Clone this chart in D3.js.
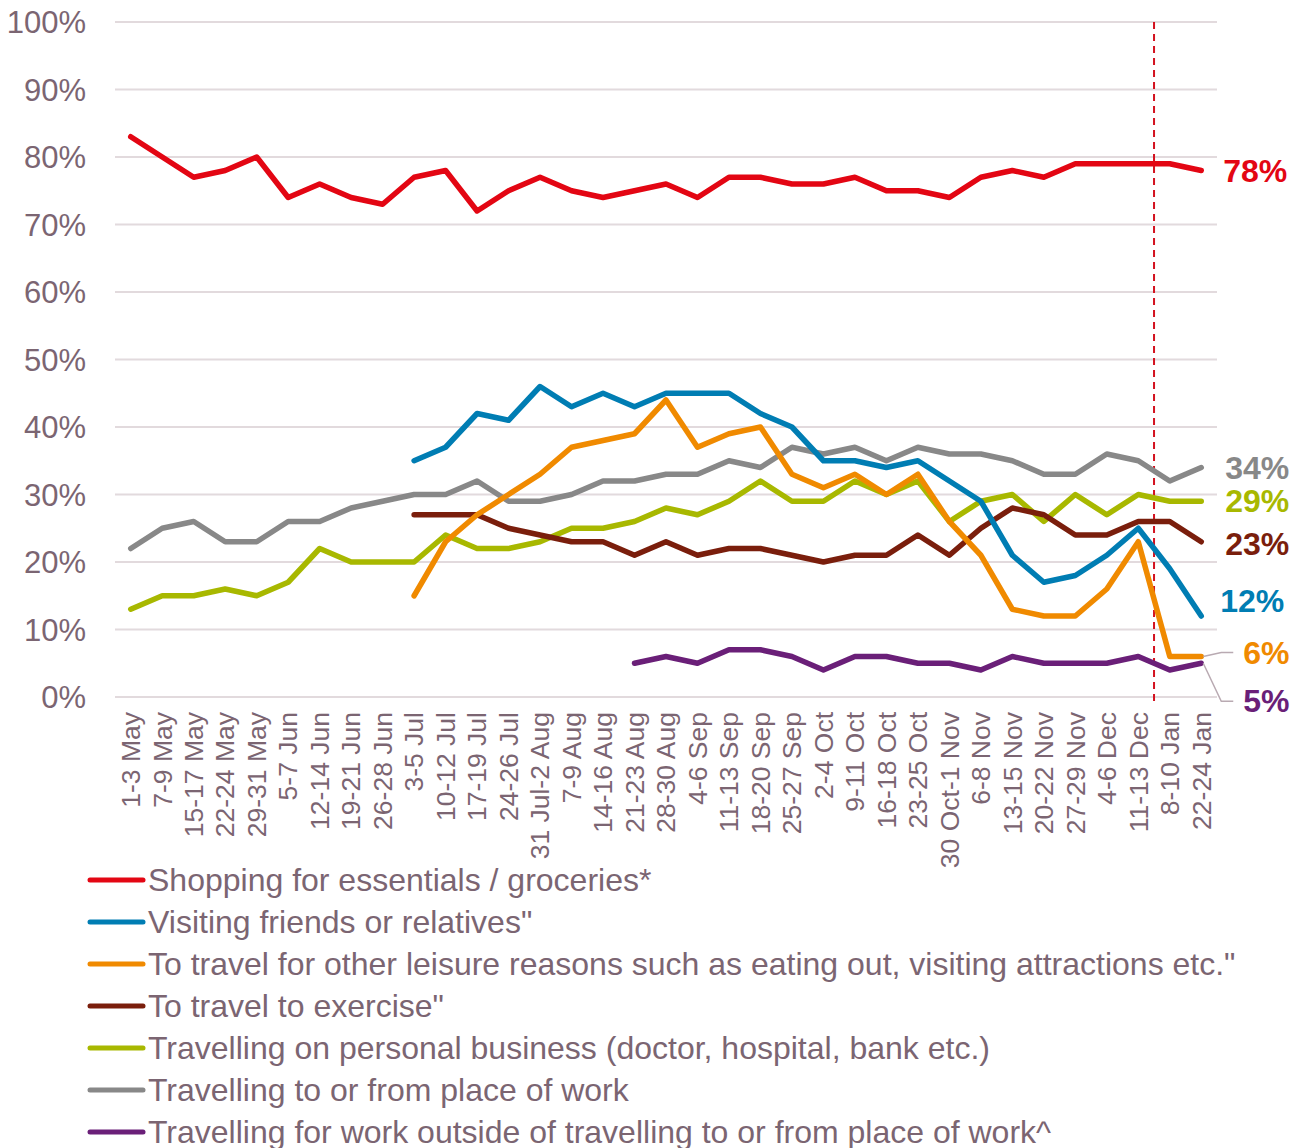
<!DOCTYPE html>
<html>
<head>
<meta charset="utf-8">
<script src="https://cdn.jsdelivr.net/npm/d3@7"></script>
<style>
  html, body { margin: 0; padding: 0; background: #fff; }
  svg { display: block; font-family: "Liberation Sans", Arial, sans-serif; }
</style>
</head>
<body>
<svg id="chart" width="1301" height="1148"></svg>
<script>
const categories = ["1-3 May","7-9 May","15-17 May","22-24 May","29-31 May","5-7 Jun","12-14 Jun","19-21 Jun","26-28 Jun","3-5 Jul","10-12 Jul","17-19 Jul","24-26 Jul","31 Jul-2 Aug","7-9 Aug","14-16 Aug","21-23 Aug","28-30 Aug","4-6 Sep","11-13 Sep","18-20 Sep","25-27 Sep","2-4 Oct","9-11 Oct","16-18 Oct","23-25 Oct","30 Oct-1 Nov","6-8 Nov","13-15 Nov","20-22 Nov","27-29 Nov","4-6 Dec","11-13 Dec","8-10 Jan","22-24 Jan"];

const shopping = [83,80,77,78,80,74,76,74,73,77,78,72,75,77,75,74,75,76,74,77,77,76,76,77,75,75,74,77,78,77,79,79,79,79,78];
const visiting = [null,null,null,null,null,null,null,null,null,35,37,42,41,46,43,45,43,45,45,45,42,40,35,35,34,35,32,29,21,17,18,21,25,19,12];
const leisure  = [null,null,null,null,null,null,null,null,null,15,23,27,30,33,37,38,39,44,37,39,40,33,31,33,30,33,26,21,13,12,12,16,23,6,6];
const exercise = [null,null,null,null,null,null,null,null,null,27,27,27,25,24,23,23,21,23,21,22,22,21,20,21,21,24,21,25,28,27,24,24,26,26,23];
const personal = [13,15,15,16,15,17,22,20,20,20,24,22,22,23,25,25,26,28,27,29,32,29,29,32,30,32,26,29,30,26,30,27,30,29,29];
const commute  = [22,25,26,23,23,26,26,28,29,30,30,32,29,29,30,32,32,33,33,35,34,37,36,37,35,37,36,36,35,33,33,36,35,32,34];
const workTrav = [null,null,null,null,null,null,null,null,null,null,null,null,null,null,null,null,5,6,5,7,7,6,4,6,6,5,5,4,6,5,5,5,6,4,5];

const seriesNames = ["Shopping for essentials / groceries*","Visiting friends or relatives\"","To travel for other leisure reasons such as eating out, visiting attractions etc.\"","To travel to exercise\"","Travelling on personal business (doctor, hospital, bank etc.)","Travelling to or from place of work","Travelling for work outside of travelling to or from place of work^"];
const seriesColors = ["#e30613","#007db3","#f08a00","#7a1e0c","#a8b800","#888888","#6a1f78"];
const seriesValues = [shopping, visiting, leisure, exercise, personal, commute, workTrav];
const yTicks = [0,10,20,30,40,50,60,70,80,90,100];
const markerAfter = "11-13 Dec";

(function () {
const svg = d3.select("#chart");
const pLeft = 115, pRight = 1217, pTop = 22, pBottom = 697;
const textColor = "#7b6572";

const x = d3.scaleBand().domain(categories).range([pLeft, pRight]).paddingInner(0).paddingOuter(0);
const xc = d => x(d) + x.bandwidth() / 2;
const y = d3.scaleLinear().domain([0, 100]).range([pBottom, pTop]);

// gridlines
svg.append("g").selectAll("line").data(yTicks).join("line")
  .attr("x1", pLeft).attr("x2", pRight)
  .attr("y1", d => y(d)).attr("y2", d => y(d))
  .attr("stroke", "#e2dadd").attr("stroke-width", 2);

// y axis labels
const yAxis = d3.axisLeft(y).tickValues(yTicks).tickFormat(d => d + "%").tickSize(0).tickPadding(0);
const gy = svg.append("g").attr("transform", "translate(86,0)").call(yAxis);
gy.select(".domain").remove();
gy.selectAll("text").attr("fill", textColor).style("font-size", "31px")
  .style("font-family", "'Liberation Sans', Arial, sans-serif").attr("dy", "0.35em");

// x axis labels
const xAxis = d3.axisBottom(x).tickSize(0).tickPadding(0);
const gx = svg.append("g").attr("transform", `translate(0,${pBottom})`).call(xAxis);
gx.select(".domain").remove();
gx.selectAll("text")
  .attr("fill", textColor).style("font-size", "26.5px")
  .style("font-family", "'Liberation Sans', Arial, sans-serif")
  .attr("text-anchor", "end")
  .attr("transform", "translate(0,15) rotate(-90)")
  .attr("x", 0).attr("y", 0).attr("dy", "0.35em");

// dashed marker line between 11-13 Dec and 8-10 Jan
const mIdx = categories.indexOf(markerAfter);
const mx = x(categories[mIdx + 1]);
svg.append("line")
  .attr("x1", mx).attr("x2", mx).attr("y1", pTop).attr("y2", pBottom + 8)
  .attr("stroke", "#d3121f").attr("stroke-width", 2).attr("stroke-dasharray", "7,5");

// lines
const line = d3.line()
  .defined(d => d.v != null)
  .x(d => xc(d.c)).y(d => y(d.v));

const drawOrder = [5, 4, 3, 2, 1, 6, 0];
drawOrder.forEach(i => {
  const data = categories.map((c, k) => ({ c, v: seriesValues[i][k] }));
  svg.append("path").datum(data)
    .attr("d", line)
    .attr("fill", "none")
    .attr("stroke", seriesColors[i])
    .attr("stroke-width", 5.5)
    .attr("stroke-linejoin", "round")
    .attr("stroke-linecap", "round");
});

// end labels
const lastC = categories[categories.length - 1];
const lastX = xc(lastC);
const endLabels = [
  { s: 0, dx: 22, dy: 0, leader: false },
  { s: 5, dx: 24, dy: 0, leader: false },
  { s: 4, dx: 24, dy: 0, leader: false },
  { s: 3, dx: 24, dy: 2, leader: false },
  { s: 1, dx: 19, dy: -15, leader: false },
  { s: 2, dx: 42, dy: -4, leader: true },
  { s: 6, dx: 42, dy: 38, leader: true }
];
endLabels.forEach(e => {
  const vals = seriesValues[e.s];
  const v = vals[vals.length - 1];
  const py = y(v);
  const ty = py + e.dy;
  if (e.leader) {
    svg.append("polyline")
      .attr("points", `${lastX + 2},${py} ${lastX + 20},${ty} ${lastX + 32},${ty}`)
      .attr("fill", "none").attr("stroke", "#b9aab2").attr("stroke-width", 1.5);
  }
  svg.append("text")
    .attr("x", lastX + e.dx).attr("y", ty).attr("dy", "0.35em")
    .attr("fill", seriesColors[e.s])
    .style("font-size", "32px").style("font-weight", "bold")
    .text(v + "%");
});

// legend
const legendTop = 880, legendStep = 42;
const lg = svg.append("g");
seriesNames.forEach((name, i) => {
  const cy = legendTop + i * legendStep;
  lg.append("line").attr("x1", 90).attr("x2", 143).attr("y1", cy).attr("y2", cy)
    .attr("stroke", seriesColors[i]).attr("stroke-width", 5).attr("stroke-linecap", "round");
  lg.append("text").attr("x", 148).attr("y", cy).attr("dy", "0.35em")
    .attr("fill", textColor).style("font-size", "32px")
    .text(name);
});
})();
</script>
</body>
</html>
